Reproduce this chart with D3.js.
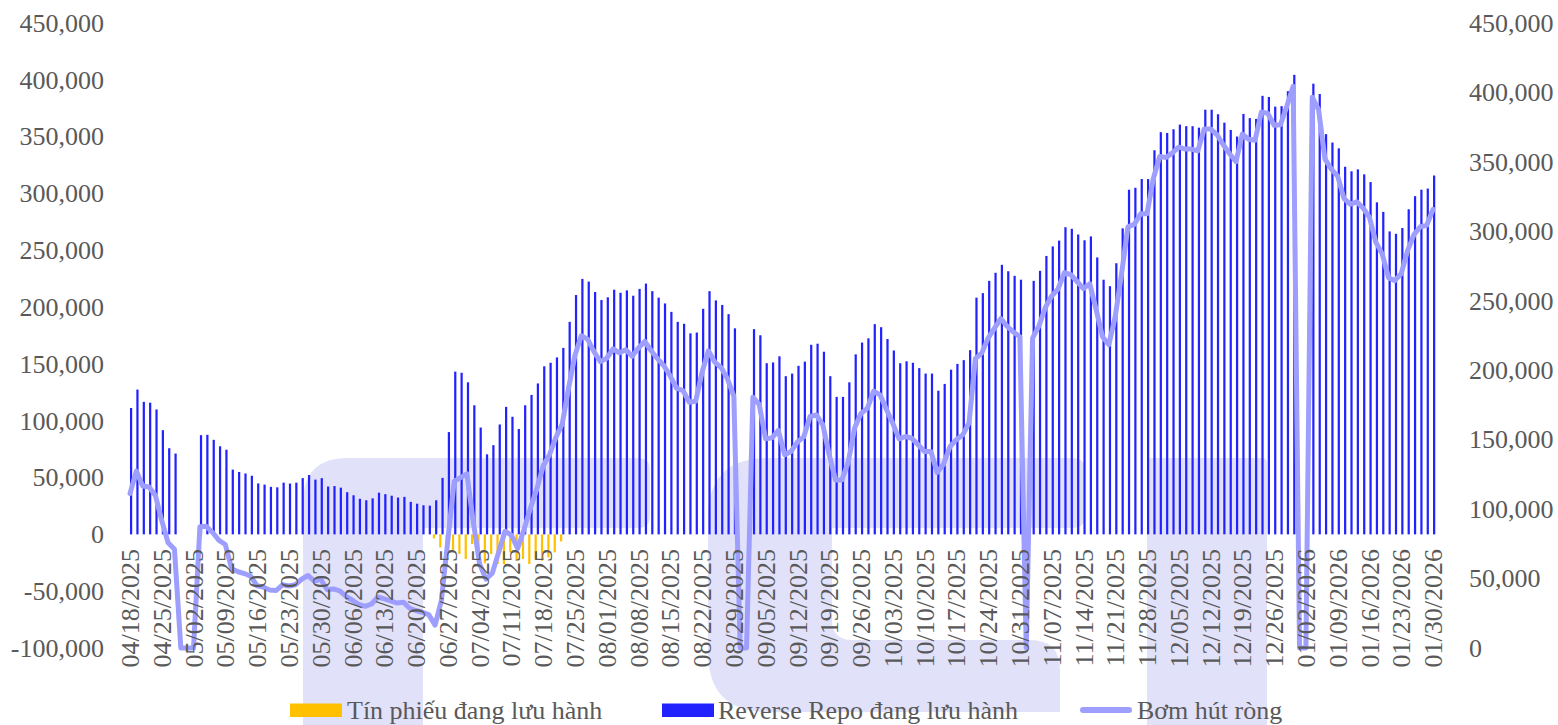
<!DOCTYPE html>
<html><head><meta charset="utf-8">
<script src="https://cdn.jsdelivr.net/npm/d3@7"></script>
<style>
html,body{margin:0;padding:0;background:#fff;}
svg{display:block;}
text{font-family:"Liberation Serif","Times New Roman",serif;}
</style>
</head><body>
<svg id="chart" width="1558" height="725"></svg>
<script>
const categories = [
"04/18/2025",
"04/21/2025","04/22/2025","04/23/2025","04/24/2025","04/25/2025",
"04/28/2025","04/29/2025","04/30/2025","05/01/2025","05/02/2025",
"05/05/2025","05/06/2025","05/07/2025","05/08/2025","05/09/2025",
"05/12/2025","05/13/2025","05/14/2025","05/15/2025","05/16/2025",
"05/19/2025","05/20/2025","05/21/2025","05/22/2025","05/23/2025",
"05/26/2025","05/27/2025","05/28/2025","05/29/2025","05/30/2025",
"06/02/2025","06/03/2025","06/04/2025","06/05/2025","06/06/2025",
"06/09/2025","06/10/2025","06/11/2025","06/12/2025","06/13/2025",
"06/16/2025","06/17/2025","06/18/2025","06/19/2025","06/20/2025",
"06/23/2025","06/24/2025","06/25/2025","06/26/2025","06/27/2025",
"06/30/2025","07/01/2025","07/02/2025","07/03/2025","07/04/2025",
"07/07/2025","07/08/2025","07/09/2025","07/10/2025","07/11/2025",
"07/14/2025","07/15/2025","07/16/2025","07/17/2025","07/18/2025",
"07/21/2025","07/22/2025","07/23/2025","07/24/2025","07/25/2025",
"07/28/2025","07/29/2025","07/30/2025","07/31/2025","08/01/2025",
"08/04/2025","08/05/2025","08/06/2025","08/07/2025","08/08/2025",
"08/11/2025","08/12/2025","08/13/2025","08/14/2025","08/15/2025",
"08/18/2025","08/19/2025","08/20/2025","08/21/2025","08/22/2025",
"08/25/2025","08/26/2025","08/27/2025","08/28/2025","08/29/2025",
"09/01/2025","09/02/2025","09/03/2025","09/04/2025","09/05/2025",
"09/08/2025","09/09/2025","09/10/2025","09/11/2025","09/12/2025",
"09/15/2025","09/16/2025","09/17/2025","09/18/2025","09/19/2025",
"09/22/2025","09/23/2025","09/24/2025","09/25/2025","09/26/2025",
"09/29/2025","09/30/2025","10/01/2025","10/02/2025","10/03/2025",
"10/06/2025","10/07/2025","10/08/2025","10/09/2025","10/10/2025",
"10/13/2025","10/14/2025","10/15/2025","10/16/2025","10/17/2025",
"10/20/2025","10/21/2025","10/22/2025","10/23/2025","10/24/2025",
"10/27/2025","10/28/2025","10/29/2025","10/30/2025","10/31/2025",
"11/03/2025","11/04/2025","11/05/2025","11/06/2025","11/07/2025",
"11/10/2025","11/11/2025","11/12/2025","11/13/2025","11/14/2025",
"11/17/2025","11/18/2025","11/19/2025","11/20/2025","11/21/2025",
"11/24/2025","11/25/2025","11/26/2025","11/27/2025","11/28/2025",
"12/01/2025","12/02/2025","12/03/2025","12/04/2025","12/05/2025",
"12/08/2025","12/09/2025","12/10/2025","12/11/2025","12/12/2025",
"12/15/2025","12/16/2025","12/17/2025","12/18/2025","12/19/2025",
"12/22/2025","12/23/2025","12/24/2025","12/25/2025","12/26/2025",
"12/29/2025","12/30/2025","12/31/2025","01/01/2026","01/02/2026",
"01/05/2026","01/06/2026","01/07/2026","01/08/2026","01/09/2026",
"01/12/2026","01/13/2026","01/14/2026","01/15/2026","01/16/2026",
"01/19/2026","01/20/2026","01/21/2026","01/22/2026","01/23/2026",
"01/26/2026","01/27/2026","01/28/2026","01/29/2026","01/30/2026"
];

const tickLabels = [
"04/18/2025","04/25/2025","05/02/2025","05/09/2025","05/16/2025","05/23/2025","05/30/2025",
"06/06/2025","06/13/2025","06/20/2025","06/27/2025","07/04/2025","07/11/2025","07/18/2025",
"07/25/2025","08/01/2025","08/08/2025","08/15/2025","08/22/2025","08/29/2025","09/05/2025",
"09/12/2025","09/19/2025","09/26/2025","10/03/2025","10/10/2025","10/17/2025","10/24/2025",
"10/31/2025","11/07/2025","11/14/2025","11/21/2025","11/28/2025","12/05/2025","12/12/2025",
"12/19/2025","12/26/2025","01/02/2026","01/09/2026","01/16/2026","01/23/2026","01/30/2026"
];

// Tín phiếu đang lưu hành (left axis, negative)
const billsOutstanding = [
0,0,0,0,0,0,0,0,0,0,
0,0,0,0,0,0,0,0,0,0,
0,0,0,0,0,0,0,0,0,0,
0,0,0,0,0,0,0,0,0,0,
0,0,0,0,0,0,0,0,-3500,-11500,
-15800,-15000,-17300,-21700,-8500,-18800,-25500,-17300,-26100,-26100,
-15800,-23200,-21700,-26100,-21700,-23200,-20200,-15800,-6200,0,
0,0,0,0,0,0,0,0,0,0,
0,0,0,0,0,0,0,0,0,0,
0,0,0,0,0,0,0,0,0,0,
0,0,0,0,0,0,0,0,0,0,
0,0,0,0,0,0,0,0,0,0,
0,0,0,0,0,0,0,0,0,0,
0,0,0,0,0,0,0,0,0,0,
0,0,0,0,0,0,0,0,0,0,
0,0,0,0,0,0,0,0,0,0,
0,0,0,0,0,0,0,0,0,0,
0,0,0,0,0,0,0,0,0,0,
0,0,0,0,0,0,0,0,0,0,
0,0,0,0,0,0,0,0,0,0,
0,0,0,0,0,0
];

// Reverse Repo đang lưu hành (left axis)
const reverseRepoOutstanding = [
111200,127400,116600,115900,109900,91700,75800,71100,0,0,
0,87300,87600,83200,77500,74500,57000,54900,53600,51600,
44800,43800,41800,41400,45500,44700,45500,49500,52200,48200,
49500,42100,42500,41100,37100,34400,31300,30000,31700,36700,
35400,34000,32400,33000,28600,27000,25600,25300,30000,49700,
90000,143200,142200,133800,113600,94000,70400,78500,96700,112200,
103500,92700,113600,122700,132800,147900,151000,155700,164100,187000,
210600,224800,222400,213300,206200,208600,215300,212600,214700,210000,
216000,220700,214000,208300,203200,195800,187000,185300,176900,177600,
198500,214000,205900,201900,193800,181300,0,0,180600,175200,
150600,151300,156700,139200,141500,148300,152000,166800,167800,160700,
139200,121000,121000,133800,158400,168800,172500,185000,182300,171900,
161800,150600,152300,151000,146300,141500,141500,126400,132400,144900,
150000,153300,162100,208300,212300,223100,230200,237200,231500,227500,
224100,0,223100,231900,245000,253400,258500,270300,268900,263900,
258800,262200,243700,224100,218400,238600,269300,303300,305000,312700,
312700,338000,353900,353200,356500,360600,359200,359200,357900,373700,
373700,369700,362300,355900,350100,370000,366300,365600,385900,384900,
376400,376800,390000,404400,0,0,396600,387500,352200,344800,
339700,323500,319500,321200,316800,310000,292200,283800,266600,264500,
269600,286100,297600,303300,304300,315800
];

// Bơm hút ròng (right axis)
const netInjection = [
111200,127400,116600,115900,109900,91700,75800,71100,0,0,
0,87300,87600,83200,77500,74500,57000,54900,53600,51600,
44800,43800,41800,41400,45500,44700,45500,49500,52200,48200,
49500,42100,42500,41100,37100,34400,31300,30000,31700,36700,
35400,34000,32400,33000,28600,27000,25600,24000,16500,34500,
77200,119900,122700,125400,91000,60700,49600,53800,68900,84100,
81300,71700,85500,100600,114400,131000,139200,151600,161300,187000,
210600,224800,222400,213300,206200,208600,215300,212600,214700,210000,
216000,220700,214000,208300,203200,195800,187000,185300,176900,177600,
198500,214000,205900,201900,193800,181300,0,0,180600,175200,
150600,151300,156700,139200,141500,148300,152000,166800,167800,160700,
139200,121000,121000,133800,158400,168800,172500,185000,182300,171900,
161800,150600,152300,151000,146300,141500,141500,126400,132400,144900,
150000,153300,162100,208300,212300,223100,230200,237200,231500,227500,
224100,0,223100,231900,245000,253400,258500,270300,268900,263900,
258800,262200,243700,224100,218400,238600,269300,303300,305000,312700,
312700,338000,353900,353200,356500,360600,359200,359200,357900,373700,
373700,369700,362300,355900,350100,370000,366300,365600,385900,384900,
376400,376800,390000,404400,0,0,396600,387500,352200,344800,
339700,323500,319500,321200,316800,310000,292200,283800,266600,264500,
269600,286100,297600,303300,304300,315800
];

const leftTicks = [-100000,-50000,0,50000,100000,150000,200000,250000,300000,350000,400000,450000];
const rightTicks = [0,50000,100000,150000,200000,250000,300000,350000,400000,450000];
const seriesNames = ["Tín phiếu đang lưu hành","Reverse Repo đang lưu hành","Bơm hút ròng"];

const C_BILL = "#ffc000", C_RR = "#2222ff", C_LINE = "#9e9eff", C_TEXT = "#595959", C_WM = "#e1e1fa";

const svg = d3.select("#chart");

// faint background watermark
const wm = svg.append("g").attr("fill", C_WM);
wm.append("path").attr("d","M303,725 L303,503 Q303,458 348,458 L638,458 Q650,458 650,470 L650,516 Q650,528 638,528 L423,528 L423,725 Z");
wm.append("path").attr("d","M768,458 L1073,458 Q1085,458 1085,470 L1085,516 Q1085,528 1073,528 L832,528 L832,620 Q832,640 852,640 L1030,640 Q1060,640 1060,670 L1060,712 L768,712 Q708,712 708,652 L708,518 Q708,458 768,458 Z");
wm.append("path").attr("d","M1147,725 L1147,463 Q1147,458 1152,458 L1262,458 Q1267,458 1267,463 L1267,725 Z");

const x0 = d3.scaleBand().domain(categories).range([126.8, 1436.2]).paddingInner(0.3).paddingOuter(0.15);
const x1 = d3.scaleBand().domain(["bills","rr"]).range([0, x0.bandwidth()]);
const yL = d3.scaleLinear().domain([-100000, 450000]).range([648, 23]);
const yR = d3.scaleLinear().domain([0, 450000]).range([648, 23]);

const rows = categories.map((c,i)=>({c, bills: billsOutstanding[i], rr: reverseRepoOutstanding[i], net: netInjection[i]}));

// bars
svg.append("g").selectAll("rect").data(rows.filter(d=>d.bills!==0)).join("rect")
  .attr("x", d=>x0(d.c)+x1("bills")).attr("width", x1.bandwidth())
  .attr("y", d=>Math.min(yL(0), yL(d.bills))).attr("height", d=>Math.abs(yL(d.bills)-yL(0)))
  .attr("fill", C_BILL);
svg.append("g").selectAll("rect").data(rows.filter(d=>d.rr!==0)).join("rect")
  .attr("x", d=>x0(d.c)+x1("rr")).attr("width", x1.bandwidth())
  .attr("y", d=>Math.min(yL(0), yL(d.rr))).attr("height", d=>Math.abs(yL(d.rr)-yL(0)))
  .attr("fill", C_RR);

// line
const line = d3.line().x(d=>x0(d.c)+x0.bandwidth()/2).y(d=>yR(d.net));
svg.append("path").datum(rows).attr("d", line)
  .attr("fill","none").attr("stroke", C_LINE).attr("stroke-width", 5)
  .attr("stroke-linejoin","round").attr("stroke-linecap","round");

// axes
const fmt = d3.formatLocale({decimal:".", thousands:",", grouping:[3], currency:["",""], minus:"-"}).format(",");
function styleAxis(g){
  g.select(".domain").remove();
  g.selectAll(".tick line").remove();
  g.selectAll("text").attr("fill", C_TEXT).style("font-size","26px").style("font-family",'"Liberation Serif","Times New Roman",serif');
}
svg.append("g").attr("transform","translate(104,0)")
  .call(d3.axisLeft(yL).tickValues(leftTicks).tickFormat(fmt).tickSize(0).tickPadding(0))
  .call(styleAxis);
svg.append("g").attr("transform","translate(1469,0)")
  .call(d3.axisRight(yR).tickValues(rightTicks).tickFormat(fmt).tickSize(0).tickPadding(0))
  .call(styleAxis);
svg.append("g").attr("transform","translate(0,535)")
  .call(d3.axisBottom(x0).tickValues(tickLabels).tickSize(0))
  .call(styleAxis)
  .call(g=>g.selectAll("text").attr("transform","rotate(-90)").attr("x",-14).attr("y",0).attr("dy","0.35em").style("text-anchor","end"));

// legend
const legend = svg.append("g");
const legItems = [
  {name: seriesNames[0], type:"rect", color:C_BILL, sx:290, tx:347},
  {name: seriesNames[1], type:"rect", color:C_RR, sx:662, tx:718},
  {name: seriesNames[2], type:"line", color:C_LINE, sx:1080, tx:1137}
];
legItems.forEach(it=>{
  if(it.type==="rect"){
    legend.append("rect").attr("x",it.sx).attr("y",703.5).attr("width",52).attr("height",13.5).attr("fill",it.color);
  } else {
    legend.append("line").attr("x1",it.sx+3).attr("x2",it.sx+49).attr("y1",710).attr("y2",710)
      .attr("stroke",it.color).attr("stroke-width",6).attr("stroke-linecap","round");
  }
  legend.append("text").attr("x",it.tx).attr("y",719).text(it.name)
    .attr("fill",C_TEXT).style("font-size","26px");
});
</script>
</body></html>
